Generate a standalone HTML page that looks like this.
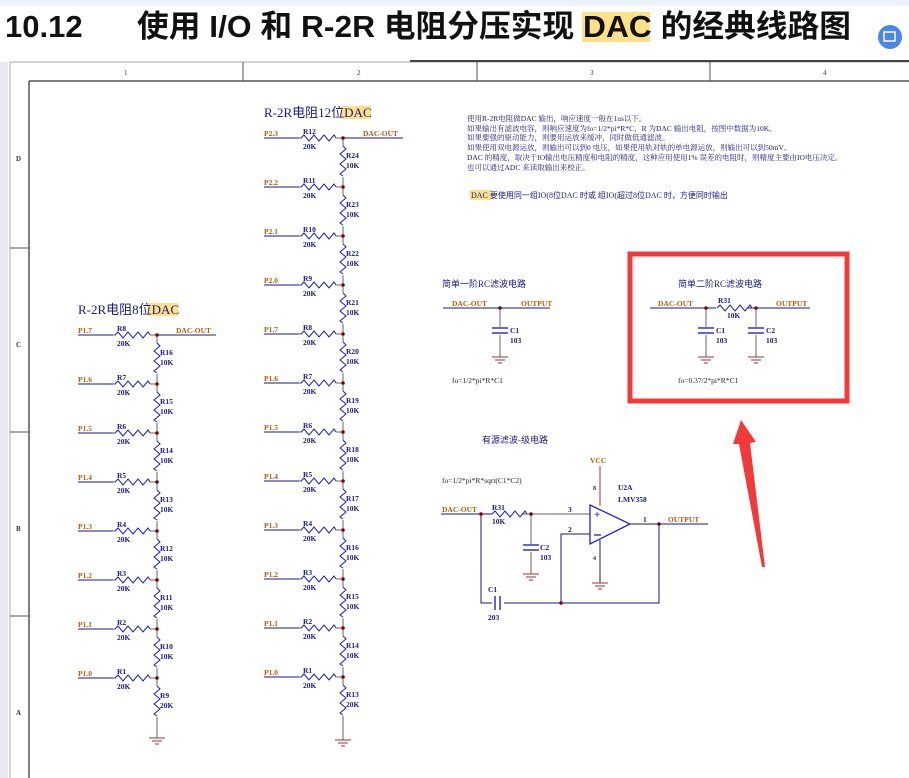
<!DOCTYPE html>
<html><head><meta charset="utf-8"><style>
body{margin:0;width:909px;height:778px;overflow:hidden;background:#fff}
svg{display:block}
text{font-family:"Liberation Serif","Noto Serif CJK SC",serif}
.s{font-size:7.5px;font-weight:bold;fill:#1a1a80}
.p{font-size:7.5px;font-weight:bold;fill:#b85c00}
.cn{font-family:"Liberation Serif","Noto Sans CJK SC",sans-serif;font-size:8px;fill:#1a1a80}
</style></head><body>
<svg width="909" height="778" viewBox="0 0 909 778" xmlns="http://www.w3.org/2000/svg">
<defs>
<path id="hr" d="M0,0 l3,-3 l5,6 l5,-6 l5,6 l5,-6 l5,6 l5,-6 l2,3" fill="none" stroke="#1a1ad0" stroke-width="1"/>
<path id="vr" d="M0,0 l3,3 l-6,5 l6,5 l-6,5 l6,5 l-6,5 l3,2" fill="none" stroke="#1a1ad0" stroke-width="1"/>
<g id="gnd" stroke="#a03030" stroke-width="1"><line x1="-8" y1="0" x2="8" y2="0"/><line x1="-5" y1="3" x2="5" y2="3"/><line x1="-2" y1="6" x2="2" y2="6"/></g>
<g id="cap" stroke="#3030d0" stroke-width="1.5"><line x1="-8" y1="0" x2="8" y2="0"/><line x1="-8" y1="5" x2="8" y2="5"/></g>
</defs>
<rect x="0" y="0" width="909" height="6" fill="#eef2fb"/>
<rect x="0" y="62" width="8" height="716" fill="#e8e8ee"/>
<text x="5" y="37" style="font-family:'Liberation Sans',sans-serif;font-weight:bold;font-size:31px" fill="#111">10.12</text>
<rect x="582" y="12" width="68" height="30" fill="#fde08a"/>
<text x="137" y="37" textLength="714" lengthAdjust="spacingAndGlyphs" style="font-family:'Liberation Sans','Noto Sans CJK SC',sans-serif;font-weight:bold;font-size:31px" fill="#111">使用 I/O 和 R-2R 电阻分压实现 DAC 的经典线路图</text>
<circle cx="890" cy="37" r="12" fill="#4a86e8"/><rect x="884" y="32" width="11" height="9" fill="none" stroke="#fff" stroke-width="1.5"/>
<!-- frame -->
<g stroke="#555" fill="none" stroke-width="1">
<line x1="10" y1="62" x2="909" y2="62" stroke="#aaa"/>
<line x1="410" y1="61" x2="909" y2="61" stroke="#444" stroke-width="2"/>
<line x1="10" y1="62" x2="10" y2="778" stroke="#aaa"/>
<line x1="29" y1="81" x2="909" y2="81" stroke="#000"/>
<line x1="29" y1="81" x2="29" y2="778" stroke="#000"/>
<line x1="243" y1="62" x2="243" y2="81"/><line x1="477" y1="62" x2="477" y2="81"/><line x1="710" y1="62" x2="710" y2="81"/>
<line x1="10" y1="248" x2="29" y2="248"/><line x1="10" y1="432" x2="29" y2="432"/><line x1="10" y1="616" x2="29" y2="616"/>
</g>
<g style="font-size:7px" fill="#333"><text x="124" y="75">1</text><text x="357" y="75">2</text><text x="590" y="75">3</text><text x="823" y="75">4</text>
<text x="16" y="161" font-weight="bold">D</text><text x="16" y="347" font-weight="bold">C</text><text x="16" y="531" font-weight="bold">B</text><text x="16" y="715" font-weight="bold">A</text></g>

<!-- LEFT LADDER -->
<rect x="148" y="303" width="30" height="13" fill="#fde08a"/>
<text x="78" y="314" style="font-family:'Liberation Serif','Noto Sans CJK SC',sans-serif;font-size:13px" fill="#1a1a80">R-2R电阻8位DAC</text>
<g stroke="#1a1a80" fill="none">
<line x1="157" y1="335" x2="216" y2="335"/>
<line x1="78" y1="335" x2="113" y2="335"/><line x1="78" y1="384" x2="113" y2="384"/><line x1="78" y1="433" x2="113" y2="433"/><line x1="78" y1="482" x2="113" y2="482"/><line x1="78" y1="531" x2="113" y2="531"/><line x1="78" y1="580" x2="113" y2="580"/><line x1="78" y1="629" x2="113" y2="629"/><line x1="78" y1="678" x2="113" y2="678"/>
</g>
<g stroke="#666"><line x1="113" y1="335" x2="157" y2="335"/><line x1="113" y1="384" x2="157" y2="384"/><line x1="113" y1="433" x2="157" y2="433"/><line x1="113" y1="482" x2="157" y2="482"/><line x1="113" y1="531" x2="157" y2="531"/><line x1="113" y1="580" x2="157" y2="580"/><line x1="113" y1="629" x2="157" y2="629"/><line x1="113" y1="678" x2="157" y2="678"/>
<line x1="157" y1="335" x2="157" y2="738"/></g>
<g fill="#fff"><rect x="116" y="330" width="34" height="9"/><rect x="116" y="379" width="34" height="9"/><rect x="116" y="428" width="34" height="9"/><rect x="116" y="477" width="34" height="9"/><rect x="116" y="526" width="34" height="9"/><rect x="116" y="575" width="34" height="9"/><rect x="116" y="624" width="34" height="9"/><rect x="116" y="673" width="34" height="9"/>
<rect x="152" y="343" width="10" height="31"/><rect x="152" y="392" width="10" height="31"/><rect x="152" y="441" width="10" height="31"/><rect x="152" y="490" width="10" height="31"/><rect x="152" y="539" width="10" height="31"/><rect x="152" y="588" width="10" height="31"/><rect x="152" y="637" width="10" height="31"/><rect x="152" y="686" width="10" height="31"/></g>
<use href="#hr" x="115" y="335"/><use href="#hr" x="115" y="384"/><use href="#hr" x="115" y="433"/><use href="#hr" x="115" y="482"/><use href="#hr" x="115" y="531"/><use href="#hr" x="115" y="580"/><use href="#hr" x="115" y="629"/><use href="#hr" x="115" y="678"/>
<use href="#vr" x="157" y="343"/><use href="#vr" x="157" y="392"/><use href="#vr" x="157" y="441"/><use href="#vr" x="157" y="490"/><use href="#vr" x="157" y="539"/><use href="#vr" x="157" y="588"/><use href="#vr" x="157" y="637"/><use href="#vr" x="157" y="686"/>
<g fill="#800"><circle cx="157" cy="335" r="1.8"/><circle cx="157" cy="384" r="1.8"/><circle cx="157" cy="433" r="1.8"/><circle cx="157" cy="482" r="1.8"/><circle cx="157" cy="531" r="1.8"/><circle cx="157" cy="580" r="1.8"/><circle cx="157" cy="629" r="1.8"/><circle cx="157" cy="678" r="1.8"/></g>
<use href="#gnd" x="157" y="738"/>
<text class="p" x="176" y="333">DAC-OUT</text>
<g class="p"><text x="78" y="333">P1.7</text><text x="78" y="382">P1.6</text><text x="78" y="431">P1.5</text><text x="78" y="480">P1.4</text><text x="78" y="529">P1.3</text><text x="78" y="578">P1.2</text><text x="78" y="627">P1.1</text><text x="78" y="676">P1.0</text></g>
<g class="s"><text x="117" y="331">R8</text><text x="117" y="346">20K</text><text x="117" y="380">R7</text><text x="117" y="395">20K</text><text x="117" y="429">R6</text><text x="117" y="444">20K</text><text x="117" y="478">R5</text><text x="117" y="493">20K</text><text x="117" y="527">R4</text><text x="117" y="542">20K</text><text x="117" y="576">R3</text><text x="117" y="591">20K</text><text x="117" y="625">R2</text><text x="117" y="640">20K</text><text x="117" y="674">R1</text><text x="117" y="689">20K</text>
<text x="160" y="355">R16</text><text x="160" y="365">10K</text><text x="160" y="404">R15</text><text x="160" y="414">10K</text><text x="160" y="453">R14</text><text x="160" y="463">10K</text><text x="160" y="502">R13</text><text x="160" y="512">10K</text><text x="160" y="551">R12</text><text x="160" y="561">10K</text><text x="160" y="600">R11</text><text x="160" y="610">10K</text><text x="160" y="649">R10</text><text x="160" y="659">10K</text><text x="160" y="698">R9</text><text x="160" y="708">20K</text></g>

<!-- MIDDLE LADDER -->
<rect x="341" y="106" width="30" height="13" fill="#fde08a"/>
<text x="264" y="117" style="font-family:'Liberation Serif','Noto Sans CJK SC',sans-serif;font-size:13px" fill="#1a1a80">R-2R电阻12位DAC</text>
<g stroke="#1a1a80"><line x1="343" y1="138" x2="403" y2="138"/>
<line x1="264" y1="138" x2="299" y2="138"/><line x1="264" y1="187" x2="299" y2="187"/><line x1="264" y1="236" x2="299" y2="236"/><line x1="264" y1="285" x2="299" y2="285"/><line x1="264" y1="334" x2="299" y2="334"/><line x1="264" y1="383" x2="299" y2="383"/><line x1="264" y1="432" x2="299" y2="432"/><line x1="264" y1="481" x2="299" y2="481"/><line x1="264" y1="530" x2="299" y2="530"/><line x1="264" y1="579" x2="299" y2="579"/><line x1="264" y1="628" x2="299" y2="628"/><line x1="264" y1="677" x2="299" y2="677"/></g>
<g stroke="#666"><line x1="299" y1="138" x2="343" y2="138"/><line x1="299" y1="187" x2="343" y2="187"/><line x1="299" y1="236" x2="343" y2="236"/><line x1="299" y1="285" x2="343" y2="285"/><line x1="299" y1="334" x2="343" y2="334"/><line x1="299" y1="383" x2="343" y2="383"/><line x1="299" y1="432" x2="343" y2="432"/><line x1="299" y1="481" x2="343" y2="481"/><line x1="299" y1="530" x2="343" y2="530"/><line x1="299" y1="579" x2="343" y2="579"/><line x1="299" y1="628" x2="343" y2="628"/><line x1="299" y1="677" x2="343" y2="677"/>
<line x1="343" y1="138" x2="343" y2="740"/></g>
<g fill="#fff"><rect x="302" y="133" width="34" height="9"/><rect x="302" y="182" width="34" height="9"/><rect x="302" y="231" width="34" height="9"/><rect x="302" y="280" width="34" height="9"/><rect x="302" y="329" width="34" height="9"/><rect x="302" y="378" width="34" height="9"/><rect x="302" y="427" width="34" height="9"/><rect x="302" y="476" width="34" height="9"/><rect x="302" y="525" width="34" height="9"/><rect x="302" y="574" width="34" height="9"/><rect x="302" y="623" width="34" height="9"/><rect x="302" y="672" width="34" height="9"/>
<rect x="338" y="146" width="10" height="31"/><rect x="338" y="195" width="10" height="31"/><rect x="338" y="244" width="10" height="31"/><rect x="338" y="293" width="10" height="31"/><rect x="338" y="342" width="10" height="31"/><rect x="338" y="391" width="10" height="31"/><rect x="338" y="440" width="10" height="31"/><rect x="338" y="489" width="10" height="31"/><rect x="338" y="538" width="10" height="31"/><rect x="338" y="587" width="10" height="31"/><rect x="338" y="636" width="10" height="31"/><rect x="338" y="685" width="10" height="31"/></g>
<use href="#hr" x="301" y="138"/><use href="#hr" x="301" y="187"/><use href="#hr" x="301" y="236"/><use href="#hr" x="301" y="285"/><use href="#hr" x="301" y="334"/><use href="#hr" x="301" y="383"/><use href="#hr" x="301" y="432"/><use href="#hr" x="301" y="481"/><use href="#hr" x="301" y="530"/><use href="#hr" x="301" y="579"/><use href="#hr" x="301" y="628"/><use href="#hr" x="301" y="677"/>
<use href="#vr" x="343" y="146"/><use href="#vr" x="343" y="195"/><use href="#vr" x="343" y="244"/><use href="#vr" x="343" y="293"/><use href="#vr" x="343" y="342"/><use href="#vr" x="343" y="391"/><use href="#vr" x="343" y="440"/><use href="#vr" x="343" y="489"/><use href="#vr" x="343" y="538"/><use href="#vr" x="343" y="587"/><use href="#vr" x="343" y="636"/><use href="#vr" x="343" y="685"/>
<g fill="#800"><circle cx="343" cy="138" r="1.8"/><circle cx="343" cy="187" r="1.8"/><circle cx="343" cy="236" r="1.8"/><circle cx="343" cy="285" r="1.8"/><circle cx="343" cy="334" r="1.8"/><circle cx="343" cy="383" r="1.8"/><circle cx="343" cy="432" r="1.8"/><circle cx="343" cy="481" r="1.8"/><circle cx="343" cy="530" r="1.8"/><circle cx="343" cy="579" r="1.8"/><circle cx="343" cy="628" r="1.8"/><circle cx="343" cy="677" r="1.8"/></g>
<use href="#gnd" x="343" y="740"/>
<text class="p" x="363" y="136">DAC-OUT</text>
<g class="p"><text x="264" y="136">P2.3</text><text x="264" y="185">P2.2</text><text x="264" y="234">P2.1</text><text x="264" y="283">P2.0</text><text x="264" y="332">P1.7</text><text x="264" y="381">P1.6</text><text x="264" y="430">P1.5</text><text x="264" y="479">P1.4</text><text x="264" y="528">P1.3</text><text x="264" y="577">P1.2</text><text x="264" y="626">P1.1</text><text x="264" y="675">P1.0</text></g>
<g class="s"><text x="303" y="134">R12</text><text x="303" y="149">20K</text><text x="303" y="183">R11</text><text x="303" y="198">20K</text><text x="303" y="232">R10</text><text x="303" y="247">20K</text><text x="303" y="281">R9</text><text x="303" y="296">20K</text><text x="303" y="330">R8</text><text x="303" y="345">20K</text><text x="303" y="379">R7</text><text x="303" y="394">20K</text><text x="303" y="428">R6</text><text x="303" y="443">20K</text><text x="303" y="477">R5</text><text x="303" y="492">20K</text><text x="303" y="526">R4</text><text x="303" y="541">20K</text><text x="303" y="575">R3</text><text x="303" y="590">20K</text><text x="303" y="624">R2</text><text x="303" y="639">20K</text><text x="303" y="673">R1</text><text x="303" y="688">20K</text>
<text x="346" y="158">R24</text><text x="346" y="168">10K</text><text x="346" y="207">R23</text><text x="346" y="217">10K</text><text x="346" y="256">R22</text><text x="346" y="266">10K</text><text x="346" y="305">R21</text><text x="346" y="315">10K</text><text x="346" y="354">R20</text><text x="346" y="364">10K</text><text x="346" y="403">R19</text><text x="346" y="413">10K</text><text x="346" y="452">R18</text><text x="346" y="462">10K</text><text x="346" y="501">R17</text><text x="346" y="511">10K</text><text x="346" y="550">R16</text><text x="346" y="560">10K</text><text x="346" y="599">R15</text><text x="346" y="609">10K</text><text x="346" y="648">R14</text><text x="346" y="658">10K</text><text x="346" y="697">R13</text><text x="346" y="707">20K</text></g>

<!-- Notes -->
<g class="cn" style="font-size:7.5px">
<text x="467" y="121">使用R-2R电阻做DAC 输出，响应速度一般在1us以下。</text>
<text x="467" y="131">如果输出有滤波电容，则响应速度为fo=1/2*pi*R*C，R 为DAC 输出电阻，按图中数据为10K。</text>
<text x="467" y="140">如果要强的驱动能力，则要用运放来缓冲，同时做低通滤波。</text>
<text x="467" y="150">如果使用双电源运放，则输出可以到0 电压，如果使用轨对轨的单电源运放，则输出可以到50mV。</text>
<text x="467" y="160">DAC 的精度，取决于IO输出电压精度和电阻的精度，这种应用使用1% 误差的电阻时，则精度主要由IO电压决定。</text>
<text x="467" y="170">也可以通过ADC 来读取输出来校正。</text>
</g>
<rect x="470" y="190" width="22" height="10" fill="#fde08a"/>
<text class="cn" x="471" y="198">DAC 要使用同一组IO(8位DAC 时或 组IO(超过8位DAC 时，方便同时输出</text>

<!-- first order -->
<text class="cn" x="442" y="287" style="font-size:9px">简单一阶RC滤波电路</text>
<line x1="443" y1="308" x2="550" y2="308" stroke="#1a1a80"/>
<text class="p" x="452" y="306">DAC-OUT</text><text class="p" x="521" y="306">OUTPUT</text>
<line x1="500" y1="308" x2="500" y2="357" stroke="#666"/>
<rect x="490" y="327" width="20" height="8" fill="#fff"/><use href="#cap" x="500" y="328"/>
<use href="#gnd" x="500" y="357"/><circle cx="500" cy="308" r="1.8" fill="#800"/>
<text class="s" x="510" y="333">C1</text><text class="s" x="510" y="343">103</text>
<text class="s" x="452" y="383" style="font-weight:normal;fill:#222">fo=1/2*pi*R*C1</text>

<!-- second order -->
<rect x="630" y="254" width="217" height="147" fill="none" stroke="#f23a3a" stroke-width="5"/>
<text class="cn" x="678" y="287" style="font-size:9px">简单二阶RC滤波电路</text>
<line x1="650" y1="308" x2="810" y2="308" stroke="#1a1a80"/>
<rect x="716" y="303" width="32" height="9" fill="#fff"/><use href="#hr" x="717" y="308"/>
<text class="p" x="658" y="306">DAC-OUT</text><text class="p" x="776" y="306">OUTPUT</text>
<text class="s" x="718" y="303">R31</text><text class="s" x="727" y="318">10K</text>
<line x1="706" y1="308" x2="706" y2="357" stroke="#666"/><line x1="756" y1="308" x2="756" y2="357" stroke="#666"/>
<rect x="696" y="327" width="20" height="8" fill="#fff"/><use href="#cap" x="706" y="328"/>
<rect x="746" y="327" width="20" height="8" fill="#fff"/><use href="#cap" x="756" y="328"/>
<use href="#gnd" x="706" y="357"/><use href="#gnd" x="756" y="357"/>
<circle cx="706" cy="308" r="1.8" fill="#800"/><circle cx="756" cy="308" r="1.8" fill="#800"/>
<text class="s" x="716" y="333">C1</text><text class="s" x="716" y="343">103</text><text class="s" x="766" y="333">C2</text><text class="s" x="766" y="343">103</text>
<text class="s" x="678" y="383" style="font-weight:normal;fill:#222">fo=0.37/2*pi*R*C1</text>

<!-- arrow -->
<polygon points="741,420 756,442 750,443 765,567 762,567 739,444 733,444" fill="#f23a3a"/>

<!-- active -->
<text class="cn" x="482" y="443" style="font-size:9px">有源滤波-级电路</text>
<text class="s" x="442" y="483" style="font-weight:normal;fill:#222">fo=1/2*pi*R*sqrt(C1*C2)</text>
<line x1="441" y1="514" x2="492" y2="514" stroke="#1a1a80"/>
<line x1="522" y1="514" x2="590" y2="514" stroke="#666"/>
<use href="#hr" x="492" y="514"/>
<text class="p" x="442" y="512">DAC-OUT</text><text class="s" x="492" y="510">R31</text><text class="s" x="492" y="524">10K</text>
<text class="s" x="568" y="512">3</text><text class="s" x="568" y="532">2</text><text class="s" x="643" y="522">1</text>
<line x1="531" y1="514" x2="531" y2="574" stroke="#666"/>
<rect x="521" y="544" width="20" height="8" fill="#fff"/><use href="#cap" x="531" y="545"/><use href="#gnd" x="531" y="574"/>
<text class="s" x="540" y="550">C2</text><text class="s" x="540" y="560">103</text>
<g stroke="#1a1a80" fill="none"><polyline points="481,514 481,603 659,603 659,524"/><polyline points="561,603 561,534 590,534"/></g>
<rect x="492" y="598" width="12" height="10" fill="#fff"/><g stroke="#3030d0" stroke-width="1.5"><line x1="495" y1="596" x2="495" y2="610"/><line x1="500" y1="596" x2="500" y2="610"/></g>
<text class="s" x="488" y="592">C1</text><text class="s" x="488" y="620">203</text>
<line x1="600" y1="466" x2="600" y2="506" stroke="#a03030"/><line x1="600" y1="540" x2="600" y2="583" stroke="#222"/>
<use href="#gnd" x="600" y="583"/>
<text class="p" x="590" y="463">VCC</text>
<text class="s" x="593" y="490" style="font-size:6px">8</text><text class="s" x="593" y="560" style="font-size:6px">4</text>
<text class="s" x="618" y="490">U2A</text><text class="s" x="618" y="502">LMV358</text>
<polygon points="590,505 630,524 590,544" fill="#fff" stroke="#2020e0" stroke-width="1.3"/>
<text x="594" y="518" fill="#2020e0" style="font-size:11px;font-weight:bold">+</text><line x1="594" y1="535" x2="601" y2="535" stroke="#2020e0" stroke-width="1.3"/>
<line x1="630" y1="524" x2="708" y2="524" stroke="#222"/><line x1="659" y1="524" x2="708" y2="524" stroke="#1a1a80"/>
<text class="p" x="668" y="522">OUTPUT</text>
<circle cx="659" cy="524" r="1.8" fill="#800"/><circle cx="481" cy="514" r="1.8" fill="#800"/><circle cx="531" cy="514" r="1.8" fill="#800"/><circle cx="561" cy="603" r="1.8" fill="#800"/>
</svg>
</body></html>
